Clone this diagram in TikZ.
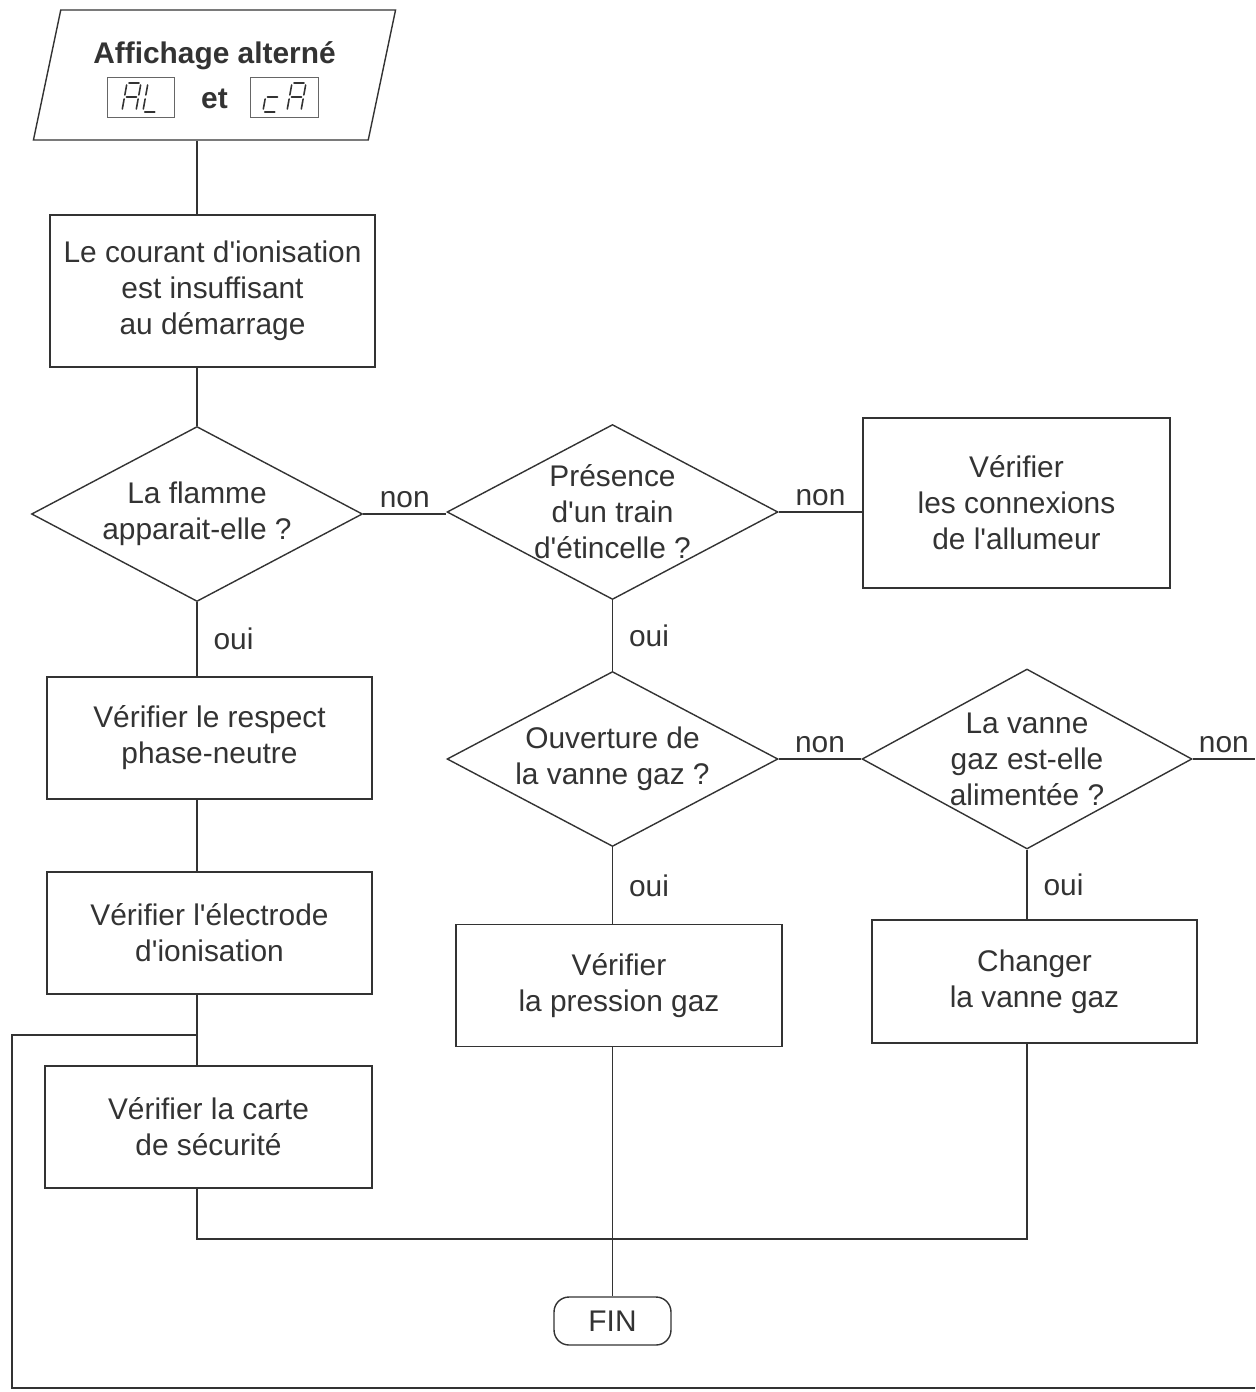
\documentclass[tikz,border=0pt]{standalone}
\usepackage{fontspec}
\setmainfont{Liberation Sans}[Ligatures=TeXOff]
\usetikzlibrary{shapes.geometric,positioning,calc}

% one digit of the small LCD display, drawn segment by segment
\newcommand{\segdigit}[2]{%
  \begin{scope}[shift={#1}, xslant=0.18]
    \foreach \xa/\ya/\xb/\yb in {#2} {\draw[lcdseg] (\xa,\ya) -- (\xb,\yb);}
  \end{scope}}

\begin{document}
\begin{tikzpicture}[x=0.02cm, y=-0.02cm, line width=0.8pt, color=black!80,
    font=\fontsize{17}{20.5}\selectfont,
    actionbox/.style={draw, rectangle, align=center, minimum width=6.5cm, minimum height=2.44cm},
    testnode/.style={draw, diamond, aspect=1.9, align=center, inner sep=-6pt, minimum width=6.62cm, minimum height=3.5cm},
    endnode/.style={draw, rectangle, rounded corners=0.3cm, minimum width=2.34cm, minimum height=0.96cm},
    yeslabel/.style={right, xshift=0.2cm},
    lcdbox/.style={line width=0.5pt, black!60},
    lcdseg/.style={line width=0.9pt, line cap=round, black!80}]
        \useasboundingbox (0,0) rectangle (1255,1392);

        \node [draw, trapezium, trapezium left angle=74, trapezium right angle=106, trapezium stretches=true,
               minimum width=7.26cm, minimum height=2.6cm, align=center] (disp) at (214.5,75)
               {\textbf{Affichage alterné}\\[5pt]\textbf{et}};
        \draw [lcdbox] (107,77) rectangle (174,117);
        \draw [lcdbox] (250,77) rectangle (318,117);
        \segdigit{(127,83)}{2/0/12/0, 14/2/14/12, 14/16/14/26, 0/16/0/26, 0/2/0/12, 2/14/12/14}
        \segdigit{(148,83)}{0/2/0/12, 0/16/0/26, 2/29/12/29}
        \segdigit{(268,83)}{2/14/12/14, 0/16/0/26, 2/29/12/29}
        \segdigit{(292,83)}{2/0/12/0, 14/2/14/12, 14/16/14/26, 0/16/0/26, 0/2/0/12, 2/14/12/14}

        \node [actionbox, minimum height=3.04cm] (ion) at (212.5,291) {Le courant d'ionisation\\est insuffisant\\au démarrage};
        \node [testnode] (flamme) at (197,514) {La flamme\\apparait-elle ?};
        \node [testnode] (train) at (612.5,512) {Présence\\d'un train\\d'étincelle ?};
        \node [actionbox, minimum width=6.14cm, minimum height=3.4cm] (conn) at (1016.5,503) {Vérifier\\les connexions\\de l'allumeur};
        \node [actionbox] (phase) at (209.5,738) {Vérifier le respect\\phase-neutre};
        \node [actionbox] (electrode) at (209.5,933) {Vérifier l'électrode\\d'ionisation};
        \node [actionbox, minimum width=6.54cm] (carte) at (208.5,1127) {Vérifier la carte\\de sécurité};
        \node [testnode] (vanne) at (612.5,759) {Ouverture de\\la vanne gaz ?};
        \node [testnode, minimum width=6.6cm, minimum height=3.6cm] (alim) at (1027,759) {La vanne\\gaz est-elle\\alimentée ?};
        \node [actionbox, minimum width=6.52cm] (pression) at (619,985.5) {Vérifier\\la pression gaz};
        \node [actionbox, minimum height=2.46cm] (changer) at (1034.5,981.5) {Changer\\la vanne gaz};
        \node [endnode] (fin) at (612.5,1321) {FIN};

        \coordinate (jl) at (197,1035);
        \coordinate (merge) at (612.5,1239);
        \coordinate (out1) at (1255,759);
        \coordinate (out2) at (1255,1388);

        \draw (disp.south -| flamme) -- (ion.north -| flamme);
        \draw (ion.south -| flamme) -- (flamme.north);
        \draw (flamme.east) -- node[above]{non} (flamme.east -| train.west);
        \draw (train.east) -- node[above]{non} (train.east -| conn.west);
        \draw (flamme.south) -- node[yeslabel]{oui} (flamme |- phase.north);
        \draw (phase.south -| flamme) -- (electrode.north -| flamme);
        \draw (electrode.south -| flamme) -- (carte.north -| flamme);
        \draw (jl) -- ++(-185,0) |- (out2);
        \draw (train.south) -- node[yeslabel]{oui} (vanne.north);
        \draw (vanne.east) -- node[above]{non} (alim.west);
        \draw (alim.east) -- node[above]{non} (out1);
        \draw (vanne.south) -- node[yeslabel]{oui} (vanne |- pression.north);
        \draw (alim.south) -- node[yeslabel]{oui} (alim |- changer.north);
        \draw (vanne |- pression.south) -- (fin.north);
        \draw (carte.south -| flamme) |- (merge) -| (alim |- changer.south);
    \end{tikzpicture}
\end{document}
